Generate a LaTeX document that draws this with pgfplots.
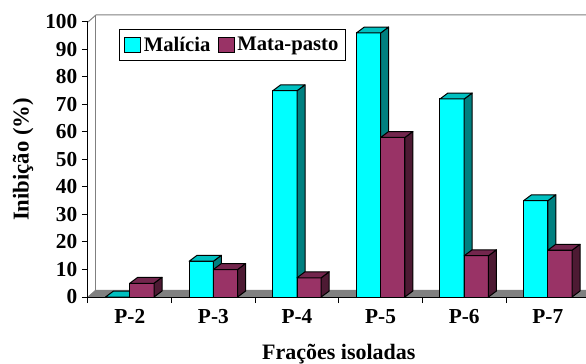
\documentclass[border=0pt]{standalone}
\usepackage{pgfplots}
\pgfplotsset{compat=1.18}
\usepackage{pgfplotstable}
\usepackage{fontspec}
\setmainfont{Liberation Serif}
\definecolor{cF}{HTML}{00FFFF}
\definecolor{cT}{HTML}{00C0C0}
\definecolor{cS}{HTML}{008080}
\definecolor{mF}{HTML}{993366}
\definecolor{mT}{HTML}{73264D}
\definecolor{mS}{HTML}{4D1A33}
\definecolor{wall}{HTML}{808080}

\pgfplotstableread{
x m p
0 0 5
1 13 10
2 75 7
3 96 58
4 72 15
5 35 17
}\data

\newcommand\bw{0.29}
\newcommand\ddx{0.0957}
\newcommand\ddy{2.18}
\newcommand\wdx{0.0957}
\newcommand\wdy{2.55}

\newcommand\sidesandtops[4]{%
 \pgfplotstablegetrowsof{\data}%
 \pgfmathtruncatemacro\N{\pgfplotsretval-1}%
 \pgfplotsforeachungrouped \i in {0,...,\N}{%
   \pgfplotstablegetelem{\i}{x}\of\data \let\cx\pgfplotsretval
   \pgfplotstablegetelem{\i}{#1}\of\data \let\cv\pgfplotsretval
   \pgfmathsetmacro\xl{\cx+#2-\bw/2}%
   \pgfmathsetmacro\xr{\xl+\bw}%
   \pgfmathsetmacro\xrd{\xr+\ddx}%
   \pgfmathsetmacro\xld{\xl+\ddx}%
   \pgfmathsetmacro\vd{\cv+\ddy}%
   \edef\temp{\noexpand\addplot[forget plot, fill=#4, draw=black, line width=0.75pt, line join=round] coordinates {(\xr,0) (\xrd,\ddy) (\xrd,\vd) (\xr,\cv)} -- cycle;
     \noexpand\addplot[forget plot, fill=#3, draw=black, line width=0.75pt, line join=round] coordinates {(\xl,\cv) (\xr,\cv) (\xrd,\vd) (\xld,\vd)} -- cycle;}%
   \temp
 }%
}

\begin{document}
\begin{tikzpicture}
\begin{axis}[
  scale only axis,
  width=376.2pt, height=206.25pt,
  xmin=-0.5, xmax=5.5, ymin=0, ymax=100,
  clip=false,
  axis on top,
  axis x line*=bottom, axis y line*=left,
  axis line style={line width=0.75pt, -},
  every tick/.style={black, line width=0.75pt},
  tick align=outside,
  major tick length=4.5pt,
  xtick={-0.5,0.5,...,5.5},
  x tick label as interval,
  xticklabels={P-2,P-3,P-4,P-5,P-6,P-7},
  ytick={0,10,...,100},
  /pgf/number format/assume math mode=true,
  ticklabel style={font=\bfseries\fontsize{16}{19}\selectfont},
  xticklabel style={yshift=-1.5pt},
  xlabel={Frações isoladas},
  ylabel={Inibição (\%)},
  xlabel style={font=\bfseries\fontsize{16.5}{19}\selectfont, yshift=-8pt},
  ylabel style={font=\bfseries\fontsize{17}{20}\selectfont, yshift=2pt},
  legend columns=2,
  legend image code/.code={\draw[#1] (0pt,-5.5pt) rectangle (12pt,5.5pt);},
  legend style={at={(0.0618,0.9745)}, anchor=north west, draw=black,
    line width=0.75pt, font=\bfseries\fontsize{15.5}{18}\selectfont,
    /tikz/every even column/.style={column sep=3.5pt},
    inner xsep=3.5pt, inner ysep=3.5pt, cells={anchor=west}},
]
% walls and floor
\fill[wall] (axis cs:-0.5,0) -- (axis cs:5.5,0) -- (axis cs:5.5+\wdx,\wdy) -- (axis cs:-0.5+\wdx,\wdy) -- cycle;
\draw[wall, line width=0.75pt] (axis cs:-0.5,100) -- (axis cs:-0.5+\wdx,100+\wdy) -- (axis cs:5.5+\wdx,100+\wdy);
\draw[wall, line width=0.75pt] (axis cs:-0.5+\wdx,100+\wdy) -- (axis cs:-0.5+\wdx,\wdy);
\draw[wall, line width=0.75pt] (axis cs:-0.5,0) -- (axis cs:-0.5+\wdx,\wdy);

\addplot[forget plot, ybar, bar width=\bw, bar shift=-0.145, fill=cF, draw=black, line width=0.75pt] table[x=x,y=m]{\data};
\sidesandtops{m}{-0.145}{cT}{cS}
\addplot[forget plot, ybar, bar width=\bw, bar shift=0.145, fill=mF, draw=black, line width=0.75pt] table[x=x,y=p]{\data};
\sidesandtops{p}{0.145}{mT}{mS}

\addlegendimage{fill=cF, draw=black, line width=0.75pt}
\addlegendentry{Malícia}
\addlegendimage{fill=mF, draw=black, line width=0.75pt}
\addlegendentry{Mata-pasto}
\end{axis}
\pgfresetboundingbox
\useasboundingbox (-66pt,-50.25pt) rectangle (373.5pt,222.75pt);
\end{tikzpicture}
\end{document}
